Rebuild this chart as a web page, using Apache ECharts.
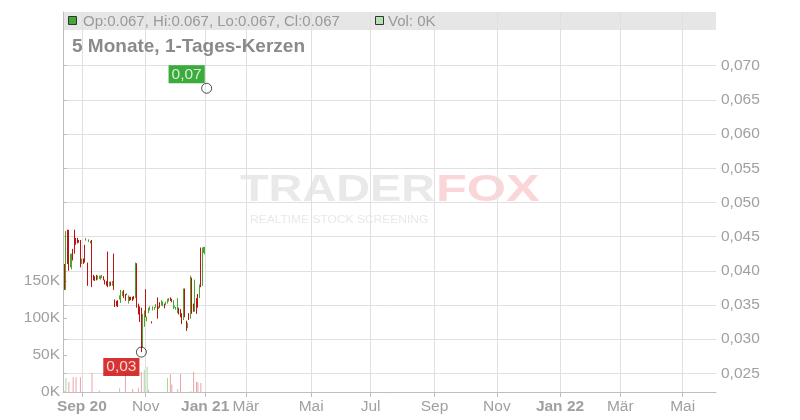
<!DOCTYPE html>
<html><head><meta charset="utf-8">
<script src="https://cdn.jsdelivr.net/npm/echarts@6/dist/echarts.min.js"></script>
<style>html,body{margin:0;padding:0;background:#fff}#c{width:800px;height:420px}</style>
</head><body><div id="c"></div>
<script>
// [open, close, low, high]
const candles = [
[0.0405,0.0384,0.0372,0.0410],[0.0380,0.0452,0.0372,0.0458],[0.0455,0.0440,0.0410,0.0460],[0.0458,0.0405,0.0400,0.0460],
[0.0410,0.0418,0.0405,0.0425],[0.0405,0.0422,0.0402,0.0425],[0.0428,0.0420,0.0415,0.0432],[0.0458,0.0425,0.0425,0.0460],
[0.0445,0.0440,0.0438,0.0448],[0.0446,0.0442,0.0440,0.0448],[0.0444,0.0443,0.0441,0.0445],[0.0440,0.0410,0.0405,0.0445],
[0.0412,0.0416,0.0410,0.0418],[0.0415,0.0413,0.0410,0.0418],[0.0435,0.0415,0.0412,0.0438],[0.0445,0.0447,0.0444,0.0448],
[0.0410,0.0382,0.0378,0.0412],[0.0443,0.0445,0.0442,0.0446],[0.0441,0.0443,0.0440,0.0444],[0.0443,0.0378,0.0376,0.0445],
[0.0392,0.0388,0.0386,0.0394],[0.0390,0.0386,0.0385,0.0392],[0.0393,0.0389,0.0386,0.0394],[0.0388,0.0392,0.0387,0.0393],
[0.0389,0.0392,0.0388,0.0393],[0.0389,0.0391,0.0387,0.0393],[0.0391,0.0392,0.0389,0.0394],[0.0390,0.0388,0.0386,0.0392],
[0.0385,0.0383,0.0380,0.0387],[0.0383,0.0380,0.0378,0.0385],[0.0427,0.0380,0.0376,0.0428],[0.0379,0.0382,0.0377,0.0384],
[0.0382,0.0379,0.0378,0.0384],[0.0380,0.0383,0.0378,0.0385],[0.0424,0.0374,0.0372,0.0425],[0.0356,0.0350,0.0347,0.0358],
[0.0354,0.0351,0.0348,0.0356],[0.0355,0.0349,0.0347,0.0357],[0.0360,0.0362,0.0358,0.0364],[0.0355,0.0370,0.0353,0.0372],
[0.0365,0.0368,0.0363,0.0370],[0.0368,0.0362,0.0360,0.0372],[0.0362,0.0358,0.0356,0.0366],[0.0365,0.0366,0.0364,0.0367],
[0.0355,0.0362,0.0352,0.0364],[0.0360,0.0357,0.0356,0.0362],[0.0360,0.0358,0.0357,0.0362],[0.0361,0.0358,0.0356,0.0362],
[0.0362,0.0360,0.0358,0.0363],[0.0362,0.0410,0.0360,0.0412],[0.0410,0.0348,0.0346,0.0411],[0.0350,0.0338,0.0336,0.0352],
[0.0345,0.0330,0.0325,0.0348],[0.0345,0.0290,0.0281,0.0346],[0.0292,0.0335,0.0288,0.0337],[0.0320,0.0340,0.0318,0.0342],
[0.0372,0.0336,0.0332,0.0373],[0.0328,0.0332,0.0326,0.0333],[0.0340,0.0345,0.0338,0.0346],[0.0343,0.0347,0.0342,0.0348],
[0.0325,0.0324,0.0323,0.0326],[0.0343,0.0346,0.0342,0.0348],[0.0344,0.0346,0.0343,0.0347],[0.0347,0.0350,0.0346,0.0351],
[0.0360,0.0332,0.0330,0.0361],[0.0345,0.0347,0.0344,0.0348],[0.0352,0.0348,0.0346,0.0354],[0.0350,0.0356,0.0349,0.0357],
[0.0350,0.0354,0.0348,0.0355],[0.0350,0.0346,0.0345,0.0352],[0.0352,0.0354,0.0350,0.0355],[0.0354,0.0358,0.0352,0.0359],
[0.0356,0.0359,0.0355,0.0360],[0.0360,0.0357,0.0356,0.0361],[0.0358,0.0355,0.0354,0.0359],[0.0346,0.0356,0.0344,0.0357],
[0.0347,0.0348,0.0346,0.0349],[0.0344,0.0346,0.0343,0.0347],[0.0340,0.0358,0.0338,0.0360],[0.0345,0.0340,0.0336,0.0346],
[0.0342,0.0334,0.0332,0.0344],[0.0336,0.0326,0.0322,0.0338],[0.0330,0.0372,0.0328,0.0374],[0.0372,0.0335,0.0332,0.0374],
[0.0325,0.0318,0.0312,0.0327],[0.0318,0.0322,0.0316,0.0324],[0.0336,0.0330,0.0328,0.0338],[0.0332,0.0390,0.0330,0.0393],
[0.0388,0.0340,0.0337,0.0390],[0.0350,0.0342,0.0340,0.0352],[0.0345,0.0385,0.0340,0.0387],[0.0358,0.0348,0.0337,0.0360],
[0.0362,0.0350,0.0346,0.0366],[0.0365,0.0378,0.0360,0.0380],[0.0432,0.0378,0.0376,0.0434],[0.0380,0.0430,0.0378,0.0434],
[0.0428,0.0432,0.0426,0.0435],[0.0425,0.0433,0.0424,0.0435],[0.0667,0.0667,0.0667,0.0667]
];
const volumes = [
1000,19000,0,13500,0,0,20000,0,20000,0,
0,20000,0,0,0,0,0,0,0,26000,
0,0,0,0,2000,0,0,0,0,0,
0,0,0,0,0,0,0,0,5000,0,
0,0,26000,0,0,0,0,4000,0,0,
0,5000,0,27000,0,30000,0,34000,3000,0,
0,0,0,0,0,0,0,0,0,0,
0,19000,0,24000,10000,0,0,0,4000,0,
24000,0,0,0,0,0,0,1000,0,27000,
0,14000,13000,0,12000,0,0,0,0
];
const xTickValues = [13, 57, 98, 126, 171, 212, 256, 299, 342.5, 384, 427];
const xTickLabels = ['Sep 20','Nov','Jan 21','Mär','Mai','Jul','Sep','Nov','Jan 22','Mär','Mai'];
const priceTicks = [0.025,0.030,0.035,0.040,0.045,0.050,0.055,0.060,0.065,0.070];
const volumeTicks = [0, 50000, 100000, 150000];
const titleText = '5 Monate, 1-Tages-Kerzen';

const UP = '#4ca52c', DOWN = '#b81414', VUP = '#a3d89c', VDOWN = '#eba3aa';
const FONT = 'Liberation Sans, Arial, sans-serif';
const AX = 15.5;

const candleData = candles.map((c, i) => [i + 1, c[0], c[1], c[2], c[3]]);
const volData = volumes.map((v, i) => ({
  value: [i + 1, v],
  itemStyle: { color: candles[i][1] >= candles[i][0] ? VUP : VDOWN }
}));
let hiIdx = 0, loIdx = 0;
candles.forEach((c, i) => { if (c[3] >= candles[hiIdx][3]) hiIdx = i; if (c[2] < candles[loIdx][2]) loIdx = i; });
const last = candles[candles.length - 1];
const fmt3 = v => v.toFixed(3);
const headerText = 'Op:' + fmt3(last[0]) + ', Hi:' + fmt3(last[3]) + ', Lo:' + fmt3(last[2]) + ', Cl:' + fmt3(last[1]);
const volText = 'Vol: ' + Math.round(volumes[volumes.length - 1] / 1000) + 'K';

const chart = echarts.init(document.getElementById('c'), null, { renderer: 'canvas' });
chart.setOption({
  animation: false,
  backgroundColor: '#fff',
  textStyle: { fontFamily: FONT },
  grid: [
    { left: 63, right: 84, top: 12, bottom: 28 },
    { left: 63, right: 84, top: 215, bottom: 28 }
  ],
  xAxis: [{
    type: 'value', gridIndex: 0, min: 0, max: 450,
    axisLine: { show: true, lineStyle: { color: '#bdbdbd' } },
    axisTick: { show: true, customValues: xTickValues, length: 5, lineStyle: { color: '#bdbdbd' } },
    axisLabel: {
      customValues: xTickValues, margin: 7, color: '#a0a0a0', fontSize: AX, fontFamily: FONT,
      formatter: v => { const k = xTickValues.indexOf(v); const t = k >= 0 ? xTickLabels[k] : ''; return /\d/.test(t) ? '{b|' + t + '}' : t; },
      rich: { b: { fontWeight: 'bold', fontSize: AX, color: '#a0a0a0', fontFamily: FONT } }
    },
    splitLine: { show: true, lineStyle: { color: '#e0e0e0', width: 1 } }
  }, {
    type: 'value', gridIndex: 1, min: 0, max: 450, show: false
  }],
  yAxis: [{
    type: 'value', gridIndex: 0, position: 'right',
    min: 0.022265, max: 0.077855,
    axisLine: { show: true, lineStyle: { color: '#bdbdbd' } },
    axisTick: { show: true, customValues: priceTicks, length: 4, lineStyle: { color: '#bdbdbd' } },
    axisLabel: { customValues: priceTicks, margin: 5, color: '#a0a0a0', fontSize: AX, fontFamily: FONT,
      formatter: v => v.toFixed(3).replace('.', ',') },
    splitLine: { show: true, lineStyle: { color: '#e0e0e0', width: 1 } }
  }, {
    type: 'value', gridIndex: 1, position: 'left', min: 0, max: 239000,
    axisLine: { show: true, lineStyle: { color: '#bdbdbd' } },
    axisTick: { show: true, inside: true, customValues: volumeTicks, length: 4, lineStyle: { color: '#bdbdbd' } },
    axisLabel: { customValues: volumeTicks, margin: 3, color: '#a0a0a0', fontSize: AX, fontFamily: FONT,
      formatter: v => Math.round(v / 1000) + 'K' },
    splitLine: { show: false }
  }],
  series: [{
    type: 'bar', xAxisIndex: 1, yAxisIndex: 1, barWidth: 1, data: volData, z: 1
  }, {
    type: 'candlestick', xAxisIndex: 0, yAxisIndex: 0, barWidth: 1,
    encode: { x: 0, y: [1, 2, 3, 4] },
    itemStyle: { color: UP, color0: DOWN, borderColor: UP, borderColor0: DOWN, borderWidth: 1 },
    data: candleData, z: 3
  }, {
    type: 'scatter', xAxisIndex: 0, yAxisIndex: 0, symbol: 'circle', symbolSize: 10, z: 5,
    itemStyle: { color: 'rgba(0,0,0,0)', borderColor: '#222', borderWidth: 1 },
    data: [
      { value: [hiIdx + 1, candles[hiIdx][3]], label: { show: true, position: 'inside', offset: [-20, -14], backgroundColor: '#0a960a' } },
      { value: [loIdx + 1, candles[loIdx][2]], label: { show: true, position: 'inside', offset: [-20, 15], backgroundColor: '#cc0000' } }
    ],
    label: { formatter: p => p.value[1].toFixed(2).replace('.', ','), color: '#fff', fontSize: 15.5, fontFamily: FONT, padding: [1, 3, 0, 3], lineHeight: 17 }
  }],
  graphic: [
    { type: 'rect', z: -1, shape: { x: 63, y: 12, width: 653, height: 18 }, style: { fill: '#e6e6e6' } },
    { type: 'rect', z: 10, shape: { x: 68.5, y: 16.5, width: 8, height: 8 }, style: { fill: '#44a832', stroke: '#333', lineWidth: 1 } },
    { type: 'text', z: 10, x: 83, y: 21.5, style: { text: headerText, fill: '#999', font: '15px ' + FONT, textVerticalAlign: 'middle' } },
    { type: 'rect', z: 10, shape: { x: 375.5, y: 16.5, width: 8, height: 8 }, style: { fill: '#b4e2b0', stroke: '#333', lineWidth: 1 } },
    { type: 'text', z: 10, x: 388, y: 21.5, style: { text: volText, fill: '#999', font: '15px ' + FONT, textVerticalAlign: 'middle' } },
    { type: 'text', z: 10, x: 72, y: 47, style: { text: titleText, fill: '#8a8a8a', font: 'bold 19px ' + FONT, textVerticalAlign: 'middle' } },
    { type: 'text', z: -1, x: 240, y: 191, scaleX: 1.3, originX: 0, originY: 0, style: { text: 'TRADER', fill: '#e9e9e9', font: 'bold 36px ' + FONT, textVerticalAlign: 'middle' } },
    { type: 'text', z: -1, x: 436, y: 191, scaleX: 1.4, originX: 0, originY: 0, style: { text: 'FOX', fill: '#fbd6d9', font: 'bold 36px ' + FONT, textVerticalAlign: 'middle' } },
    { type: 'text', z: -1, x: 250, y: 220, scaleX: 1.2, originX: 0, originY: 0, style: { text: 'REALTIME STOCK SCREENING', fill: '#e8e8e8', font: '10px ' + FONT, textVerticalAlign: 'middle' } }
  ]
});
</script></body></html>
